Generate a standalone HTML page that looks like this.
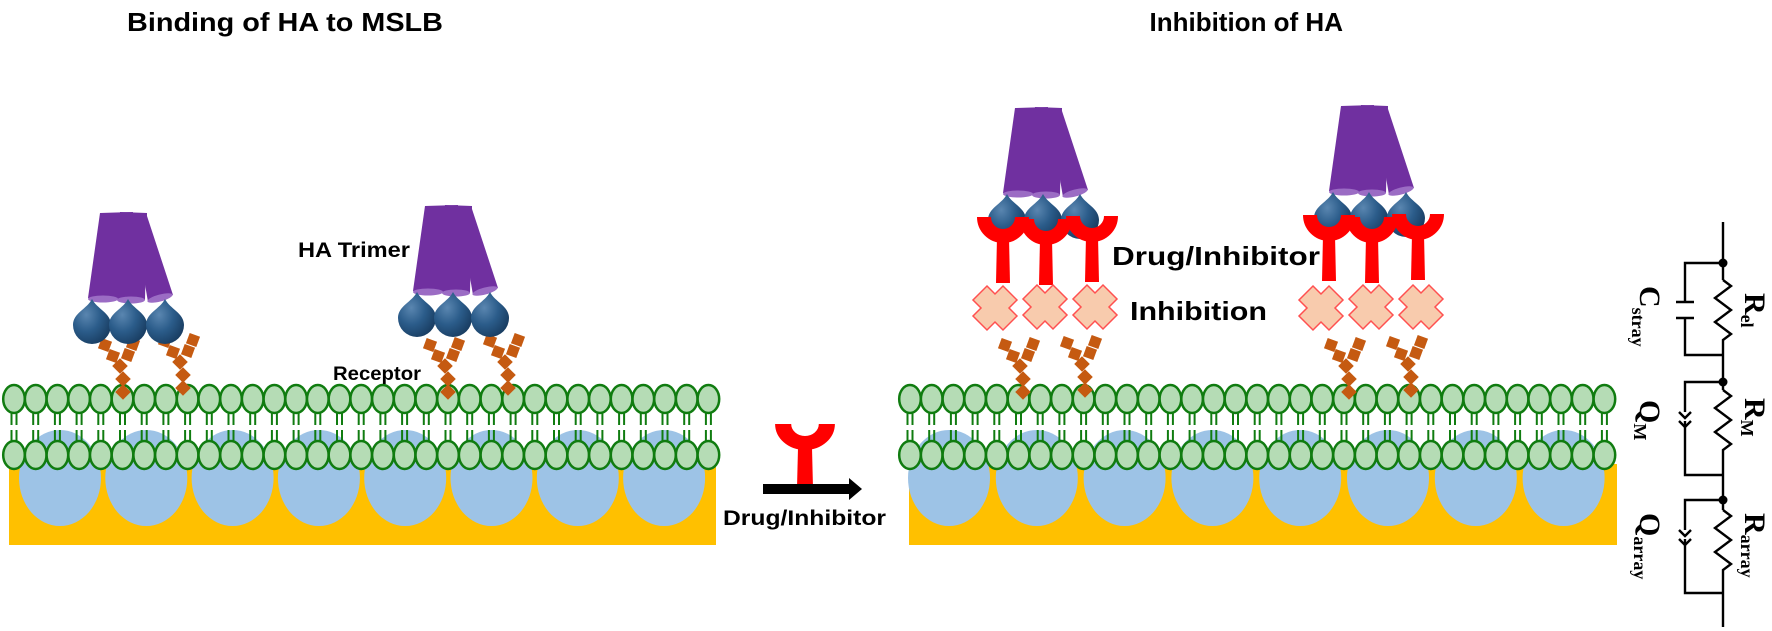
<!DOCTYPE html>
<html><head><meta charset="utf-8"><style>
html,body{margin:0;padding:0;background:#fff;}
svg{display:block;}
text{font-family:"Liberation Sans",sans-serif;font-weight:bold;fill:#000;}
.ser{font-family:"Liberation Serif",serif;font-weight:bold;}
</style></head><body>
<svg id="s" width="1772" height="631" viewBox="0 0 1772 631" xmlns="http://www.w3.org/2000/svg">
<defs>
<radialGradient id="dg" cx="0.35" cy="0.35" r="0.75">
<stop offset="0" stop-color="#5a86b0"/><stop offset="0.5" stop-color="#2b5c8a"/><stop offset="1" stop-color="#173a5e"/>
</radialGradient>
<g id="drop"><path d="M0,-23 C5,-13 19,-9 19,3 A19,19 0 1,1 -19,3 C-19,-9 -5,-13 0,-23 Z" fill="url(#dg)"/></g>
<g id="rec" fill="#c55a11">
<rect x="-5.5" y="-5.5" width="11" height="11" transform="translate(0,0) rotate(45)"/>
<rect x="-5.5" y="-5.5" width="11" height="11" transform="translate(0,-13) rotate(45)"/>
<rect x="-5.5" y="-5.5" width="11" height="11" transform="translate(-3,-26) rotate(45)"/>
<rect x="-5.5" y="-5.5" width="11" height="11" transform="translate(-10,-36) rotate(20)"/>
<rect x="-5.5" y="-5.5" width="11" height="11" transform="translate(-18,-47) rotate(20)"/>
<rect x="-5.5" y="-5.5" width="11" height="11" transform="translate(5,-37) rotate(20)"/>
<rect x="-5.5" y="-5.5" width="11" height="11" transform="translate(10,-48) rotate(20)"/>
</g>
<g id="tri">
<polygon points="100,213 133,212 118,300 88,298" fill="#7030a0"/>
<polygon points="120,212 147,213 145,300 117,300" fill="#7030a0"/>
<polygon points="133,214 146,213 173,295 148,302" fill="#7030a0"/>
<ellipse cx="103" cy="299" rx="15" ry="3.5" fill="#9b6cc4"/>
<ellipse cx="131" cy="300" rx="14" ry="3.5" fill="#9b6cc4"/>
<ellipse cx="160" cy="298" rx="13" ry="3.5" fill="#9b6cc4" transform="rotate(-15 160 298)"/>
<use href="#drop" x="92" y="322"/><use href="#drop" x="128" y="322"/><use href="#drop" x="165" y="322"/>
</g>
<g id="ydrug">
<path d="M-19,-8 A19,19 0 0,0 19,-8" fill="none" stroke="#ff0000" stroke-width="14"/>
<path d="M-6,12 L6,12 L7,58 L-7,58 Z" fill="#ff0000"/>
</g>
<g id="xm"><path d="M-8,-22 L0,-14 L8,-22 L22,-8 L14,0 L22,8 L8,22 L0,14 L-8,22 L-22,8 L-14,0 L-22,-8 Z" fill="#f8cbad" stroke="#ff5050" stroke-width="1.5"/></g>
</defs>
<g id="subs"></g>

<text x="127" y="31" font-size="26" textLength="316" lengthAdjust="spacingAndGlyphs">Binding of HA to MSLB</text>
<text x="1343" y="31" font-size="26" text-anchor="end">Inhibition of HA</text>

<use href="#rec" x="123" y="392"/><use href="#rec" x="183" y="388"/>
<use href="#rec" x="448" y="392"/><use href="#rec" x="508" y="388"/>
<use href="#tri"/>
<use href="#tri" x="325" y="-7"/>
<text x="298" y="257" font-size="21" textLength="112" lengthAdjust="spacingAndGlyphs">HA Trimer</text>
<text x="333" y="380" font-size="19" textLength="88" lengthAdjust="spacingAndGlyphs">Receptor</text>

<use href="#ydrug" transform="translate(805,432) scale(1.15,1)"/>
<rect x="763" y="484" width="88" height="10" fill="#000"/>
<polygon points="849,478 862,489 849,500" fill="#000"/>
<text x="723" y="525" font-size="21" textLength="163" lengthAdjust="spacingAndGlyphs">Drug/Inhibitor</text>

<use href="#rec" x="1023" y="392"/><use href="#rec" x="1085" y="390"/>
<use href="#rec" x="1349" y="392"/><use href="#rec" x="1411" y="390"/>
<use href="#tri" x="915" y="-105"/>
<use href="#tri" x="1241" y="-107"/>
<g id="ys">
<use href="#ydrug" x="1003" y="225"/><use href="#ydrug" x="1046" y="227"/><use href="#ydrug" x="1092" y="224"/>
</g>
<use href="#ys" x="326" y="-2"/>
<use href="#xm" x="995" y="308"/><use href="#xm" x="1045" y="307"/><use href="#xm" x="1095" y="307"/>
<use href="#xm" x="1321" y="308"/><use href="#xm" x="1371" y="307"/><use href="#xm" x="1421" y="307"/>
<text x="1112" y="265" font-size="26" textLength="208" lengthAdjust="spacingAndGlyphs">Drug/Inhibitor</text>
<text x="1130" y="320" font-size="26" textLength="137" lengthAdjust="spacingAndGlyphs">Inhibition</text>

<g stroke="#000" stroke-width="2.4" fill="none">
<line x1="1723" y1="222" x2="1723" y2="280"/>
<polyline points="1723,280 1731,286 1715,298 1731,310 1715,322 1731,334 1723,340 1723,390"/>
<polyline points="1723,263 1685,263 1685,302"/><line x1="1676" y1="302" x2="1694" y2="302"/>
<line x1="1676" y1="318" x2="1694" y2="318"/><polyline points="1685,318 1685,355 1723,355"/>
<polyline points="1723,390 1731,396 1715,408 1731,420 1715,432 1731,444 1723,450 1723,510"/>
<polyline points="1723,382 1685,382 1685,412"/>
<polyline points="1679,412 1685,418 1691,412"/><polyline points="1679,421 1685,427 1691,421"/>
<polyline points="1685,421 1685,475 1723,475"/>
<polyline points="1723,510 1731,516 1715,528 1731,540 1715,552 1731,564 1723,570 1723,627"/>
<polyline points="1723,500 1685,500 1685,530"/>
<polyline points="1679,530 1685,536 1691,530"/><polyline points="1679,539 1685,545 1691,539"/>
<polyline points="1685,539 1685,593 1723,593"/>
</g>
<circle cx="1723" cy="263" r="4.5"/><circle cx="1723" cy="382" r="4.5"/><circle cx="1723" cy="500" r="4.5"/>
<text class="ser" transform="translate(1745,293) rotate(90)" font-size="30">R<tspan font-size="18" dy="4">el</tspan></text>
<text class="ser" transform="translate(1640,286) rotate(90)" font-size="30">C<tspan font-size="18" dy="8">stray</tspan></text>
<text class="ser" transform="translate(1745,398) rotate(90)" font-size="30">R<tspan font-size="18" dy="4">M</tspan></text>
<text class="ser" transform="translate(1640,400) rotate(90)" font-size="30">Q<tspan font-size="18" dy="6">M</tspan></text>
<text class="ser" transform="translate(1745,513) rotate(90)" font-size="30">R<tspan font-size="18" dy="4">array</tspan></text>
<text class="ser" transform="translate(1640,513) rotate(90)" font-size="30">Q<tspan font-size="18" dy="6">array</tspan></text>
</svg>
<script>
(function(){
var NS="http://www.w3.org/2000/svg",g=document.getElementById("subs");
function el(n,a){var e=document.createElementNS(NS,n);for(var k in a)e.setAttribute(k,a[k]);g.appendChild(e);return e;}
function sub(x0,x1,d0,dp,hx0){
 el("rect",{x:x0,y:464,width:x1-x0,height:81,fill:"#ffc000"});
 for(var i=0;i<8;i++){el("ellipse",{cx:d0+i*dp,cy:478,rx:41,ry:48,fill:"#9dc3e6"});}
 for(var i=0;i<33;i++){var x=hx0+i*21.7;
  [-2.5,2.5].forEach(function(o){
   el("line",{x1:x+o,y1:412,x2:x+o,y2:425,stroke:"#107c10","stroke-width":2});
   el("line",{x1:x+o,y1:430,x2:x+o,y2:443,stroke:"#107c10","stroke-width":2});
  });
  el("ellipse",{cx:x,cy:399,rx:10.8,ry:14,fill:"#b5dcb5",stroke:"#107c10","stroke-width":2.5});
  el("ellipse",{cx:x,cy:455,rx:10.8,ry:14,fill:"#b5dcb5",stroke:"#107c10","stroke-width":2.5});
 }
}
sub(9,716,60,86.3,14);
sub(909,1617,949,87.8,910);
})();
</script>
</body></html>
